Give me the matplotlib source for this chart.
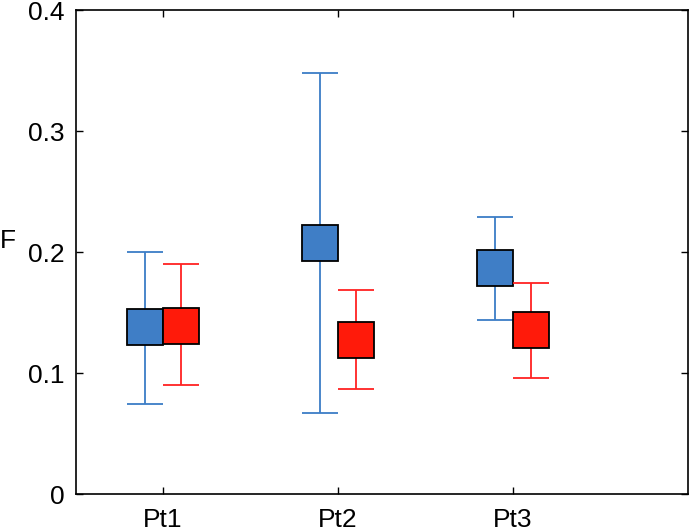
import matplotlib
matplotlib.use("Agg")
import matplotlib.pyplot as plt
import numpy as np

plt.rcParams['font.family'] = ['Liberation Sans', 'DejaVu Sans']

categories = ["Pt1", "Pt2", "Pt3"]
blue_mean = [0.138, 0.208, 0.187]
blue_low = [0.075, 0.067, 0.144]
blue_high = [0.200, 0.348, 0.229]
red_mean = [0.139, 0.1275, 0.136]
red_low = [0.090, 0.087, 0.096]
red_high = [0.190, 0.1685, 0.1745]
yticks = [0, 0.1, 0.2, 0.3, 0.4]
ytick_labels = ["0", "0.1", "0.2", "0.3", "0.4"]

blue_line = "#3C7DC6"
blue_fill = "#3F7EC6"
red_line = "#FF2222"
red_fill = "#FF1A0A"

fig = plt.figure(figsize=(6.89, 5.32), dpi=100)
ax = fig.add_axes([0.1097, 0.0707, 0.8883, 0.9101])

x = np.arange(1, len(categories) + 1)
off = 0.103

for xs, m, lo, hi, lc, fc, z in [
    (x - off, blue_mean, blue_low, blue_high, blue_line, blue_fill, 2),
    (x + off, red_mean, red_low, red_high, red_line, red_fill, 3),
]:
    m = np.array(m); lo = np.array(lo); hi = np.array(hi)
    ax.errorbar(xs, m, yerr=[m - lo, hi - m], fmt='none', ecolor=lc,
                elinewidth=1.3, capsize=13, capthick=1.3, zorder=z)
    ax.plot(xs, m, linestyle='none', marker='s', markersize=25.5,
            markerfacecolor=fc, markeredgecolor='black', markeredgewidth=1.3,
            zorder=z + 0.5)

ax.set_xlim(0.5, 4.0)
ax.set_ylim(0, 0.4)
ax.set_xticks(x)
ax.set_xticklabels(categories)
ax.set_yticks(yticks)
ax.set_yticklabels(ytick_labels)
ax.tick_params(direction='in', length=5, width=1, top=True, right=True,
               labelsize=19, colors='black')
ax.tick_params(axis='y', pad=8)
ax.tick_params(axis='x', pad=9.5)
for s in ax.spines.values():
    s.set_linewidth(1.2)

fig.text(8 / 689, 1 - 241 / 532, "F", fontsize=19, ha='center', va='center')

fig.savefig("out.png", dpi=100)
